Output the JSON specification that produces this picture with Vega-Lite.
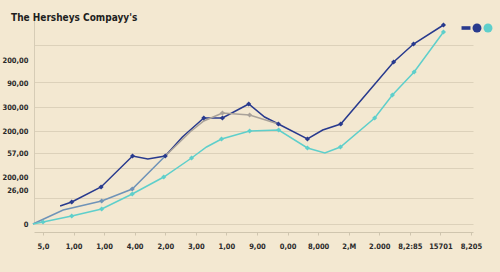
{
  "$schema": "https://vega.github.io/schema/vega-lite/v6.json",
  "width": 439,
  "height": 204,
  "autosize": {"type": "none"},
  "padding": {"left": 34, "top": 20, "right": 27, "bottom": 48},
  "background": "#f3e8d1",
  "title": {
    "text": "The Hersheys Compayy's",
    "anchor": "start",
    "frame": "group",
    "dx": -23,
    "dy": 11,
    "offset": 0,
    "baseline": "alphabetic",
    "font": "DejaVu Sans Condensed, Liberation Sans, sans-serif",
    "fontSize": 10,
    "fontWeight": "bold",
    "color": "#1e1e1e"
  },
  "config": {
    "view": {"stroke": null},
    "axis": {"labelFont": "DejaVu Sans Condensed, Liberation Sans, sans-serif", "labelFontWeight": "bold", "labelFontSize": 7.5, "labelColor": "#2a2a2a"}
  },
  "data": {
    "values": [
      {"series": "Navy", "x": 0.56, "y": 18, "node": false},
      {"series": "Navy", "x": 0.94, "y": 22, "node": true},
      {"series": "Navy", "x": 1.9, "y": 37, "node": true},
      {"series": "Navy", "x": 2.93, "y": 68, "node": true},
      {"series": "Navy", "x": 3.43, "y": 65, "node": false},
      {"series": "Navy", "x": 4.0, "y": 68, "node": true},
      {"series": "Navy", "x": 4.56, "y": 87, "node": false},
      {"series": "Navy", "x": 5.26, "y": 106, "node": true},
      {"series": "Navy", "x": 5.87, "y": 106, "node": true},
      {"series": "Navy", "x": 6.73, "y": 120, "node": true},
      {"series": "Navy", "x": 7.25, "y": 107, "node": false},
      {"series": "Navy", "x": 7.7, "y": 100, "node": true},
      {"series": "Navy", "x": 8.65, "y": 85, "node": true},
      {"series": "Navy", "x": 9.15, "y": 94, "node": false},
      {"series": "Navy", "x": 9.74, "y": 100, "node": true},
      {"series": "Navy", "x": 11.47, "y": 162, "node": true},
      {"series": "Navy", "x": 12.12, "y": 180, "node": true},
      {"series": "Navy", "x": 13.1, "y": 199, "node": true},
      {"series": "Steel", "x": -0.33, "y": 0, "node": false},
      {"series": "Steel", "x": 0.66, "y": 14, "node": false},
      {"series": "Steel", "x": 1.92, "y": 23, "node": true},
      {"series": "Steel", "x": 2.92, "y": 35, "node": true},
      {"series": "Steel", "x": 4.0, "y": 68, "node": false},
      {"series": "Gray", "x": 4.0, "y": 68, "node": false},
      {"series": "Gray", "x": 4.81, "y": 92, "node": false},
      {"series": "Gray", "x": 5.26, "y": 103, "node": false},
      {"series": "Gray", "x": 5.87, "y": 111, "node": true},
      {"series": "Gray", "x": 6.76, "y": 109, "node": true},
      {"series": "Gray", "x": 7.7, "y": 100, "node": false},
      {"series": "Teal", "x": -0.33, "y": 0, "node": false},
      {"series": "Teal", "x": 0.0, "y": 2, "node": true},
      {"series": "Teal", "x": 0.94, "y": 8, "node": true},
      {"series": "Teal", "x": 1.92, "y": 15, "node": true},
      {"series": "Teal", "x": 2.92, "y": 30, "node": true},
      {"series": "Teal", "x": 3.95, "y": 47, "node": true},
      {"series": "Teal", "x": 4.86, "y": 66, "node": true},
      {"series": "Teal", "x": 5.35, "y": 77, "node": false},
      {"series": "Teal", "x": 5.84, "y": 85, "node": true},
      {"series": "Teal", "x": 6.76, "y": 93, "node": true},
      {"series": "Teal", "x": 7.71, "y": 94, "node": true},
      {"series": "Teal", "x": 8.65, "y": 76, "node": true},
      {"series": "Teal", "x": 9.22, "y": 71, "node": false},
      {"series": "Teal", "x": 9.73, "y": 77, "node": true},
      {"series": "Teal", "x": 10.85, "y": 106, "node": true},
      {"series": "Teal", "x": 11.43, "y": 129, "node": true},
      {"series": "Teal", "x": 12.14, "y": 152, "node": true},
      {"series": "Teal", "x": 13.1, "y": 192, "node": true}
    ]
  },
  "encoding": {
    "x": {
      "field": "x", "type": "quantitative",
      "scale": {"domain": [-0.294, 14.066], "nice": false, "zero": false},
      "axis": {
        "title": null,
        "values": [0,1,2,3,4,5,6,7,8,9,10,11,12,13,14],
        "labelExpr": "['5,0','1,00','1,00','4,00','2,00','3,00','1,00','9,00','0,00','8,000','2,M','2.000','8,2:85','15701','8,205'][datum.value]",
        "grid": false,
        "offset": 8,
        "domainColor": "#cfc5ae",
        "tickColor": "#cfc5ae",
        "tickSize": 3,
        "labelPadding": 7
      }
    },
    "color": {
      "field": "series", "type": "nominal",
      "scale": {"domain": ["Navy", "Mark", "Steel", "Gray", "Teal"], "range": ["#283a8e", "#283a8e", "#6f93b8", "#a9a29a", "#5ecfcb"]},
      "legend": {
        "values": ["Navy", "Mark", "Teal"],
        "title": null,
        "orient": "none",
        "legendX": 427,
        "legendY": 3,
        "direction": "horizontal",
        "columns": 3,
        "columnPadding": 1,
        "labelExpr": "''",
        "labelOffset": 0,
        "symbolSize": 80,
        "symbolStrokeWidth": 0,
        "encode": {
          "symbols": {
            "update": {
              "shape": {"signal": "datum.value === 'Navy' ? 'M-1,-0.4H1V0.4H-1Z' : 'circle'"},
              "fill": {"signal": "datum.value === 'Teal' ? '#5ecfcb' : '#283a8e'"},
              "stroke": {"value": "transparent"},
              "opacity": {"value": 1},
              "fillOpacity": {"value": 1}
            }
          }
        }
      }
    }
  },
  "layer": [
    {
      "mark": {"type": "line", "strokeWidth": 1.5},
      "encoding": {
        "y": {
          "field": "y", "type": "quantitative",
          "scale": {"domain": [0, 204], "nice": false},
          "axis": {
            "title": null, "orient": "left",
            "values": [0, 26, 56, 71, 93, 117, 142, 179],
            "labels": false, "ticks": false, "domain": false,
            "grid": true, "gridColor": "#dcd1ba", "gridWidth": 1.2
          }
        },
        "order": {"field": "x", "type": "quantitative"}
      }
    },
    {
      "transform": [{"filter": "datum.node"}],
      "mark": {"type": "point", "shape": "diamond", "filled": true, "size": 26, "opacity": 1},
      "encoding": {
        "y": {
          "field": "y", "type": "quantitative",
          "axis": {
            "title": null, "orient": "left",
            "values": [0, 34, 47, 71, 93, 117, 141, 164],
            "labelExpr": "({'0':'0','34':'26,00','47':'200,00','71':'57,00','93':'200,00','117':'300,00','141':'90,00','164':'200,00'})[datum.value + '']",
            "grid": false, "ticks": false,
            "domain": true, "domainColor": "#d6ccb6",
            "labelPadding": 6
          }
        }
      }
    }
  ],
  "resolve": {"axis": {"y": "independent"}}
}
